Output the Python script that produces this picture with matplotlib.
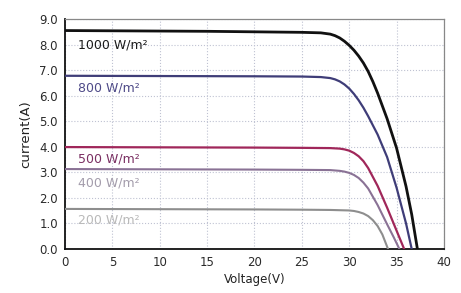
import matplotlib.pyplot as plt

# I-V curves (voltage in V, current in A)
v_1000 = [0, 5, 10, 15, 20, 25, 27, 28, 28.5, 29, 29.5, 30, 30.5, 31, 31.5, 32, 32.5, 33, 34, 35, 36, 36.6, 37.2]
i_1000 = [8.55, 8.54, 8.53, 8.52, 8.50, 8.48, 8.46, 8.41, 8.35, 8.26, 8.13, 7.97, 7.78, 7.55, 7.28, 6.95, 6.55, 6.10, 5.10, 3.95, 2.45, 1.35, 0.0]

v_800 = [0, 10, 20, 25, 27, 28, 28.5, 29, 29.5, 30, 30.5, 31, 31.5, 32, 33, 34, 35, 36, 36.6]
i_800 = [6.78, 6.77, 6.76, 6.75, 6.73, 6.69, 6.64, 6.56, 6.44, 6.28, 6.07, 5.82, 5.53, 5.20, 4.48, 3.60, 2.40, 1.00, 0.0]

v_500 = [0, 10, 20, 25, 28, 29, 29.5, 30, 30.5, 31, 31.5, 32, 33, 34, 35, 35.8]
i_500 = [3.99, 3.98, 3.97, 3.96, 3.95, 3.93, 3.90, 3.85, 3.76, 3.63, 3.44, 3.17, 2.47, 1.62, 0.72, 0.0]

v_400 = [0, 10, 20, 25, 28, 29, 29.5, 30, 30.5, 31, 31.5, 32, 33, 34, 34.7, 35.3]
i_400 = [3.13, 3.12, 3.11, 3.10, 3.09, 3.06, 3.03, 2.98, 2.90, 2.78, 2.60, 2.37, 1.72, 0.97, 0.46, 0.0]

v_200 = [0, 10, 20, 25, 28, 30, 30.5, 31, 31.5, 32, 32.5, 33, 33.5, 34.1]
i_200 = [1.57, 1.56, 1.55, 1.54, 1.53, 1.51, 1.49, 1.45, 1.39, 1.29, 1.13, 0.90, 0.57, 0.0]

labels = ["1000 W/m²", "800 W/m²", "500 W/m²", "400 W/m²", "200 W/m²"]
label_y = [8.0, 6.3, 3.52, 2.6, 1.12]

x_ticks = [0, 5, 10, 15, 20, 25, 30, 35, 40]
y_ticks = [0, 1, 2, 3, 4, 5, 6, 7, 8, 9]

curves = [(v_1000, i_1000), (v_800, i_800), (v_500, i_500), (v_400, i_400), (v_200, i_200)]
line_colors = ["#111111", "#3f3d78", "#a0275a", "#8a7295", "#8e8e8e"]
line_widths = [2.0, 1.6, 1.6, 1.5, 1.5]
text_colors = ["#1a1a1a", "#4e4a88", "#7a2f62", "#a39cab", "#b9b9b9"]

plt.rcParams["font.family"] = ["DejaVu Sans"]

fig = plt.figure(figsize=(4.61, 2.93), dpi=100)
ax = fig.add_axes([0.141, 0.150, 0.822, 0.785])

for (v, i), c, lw in zip(curves, line_colors, line_widths):
    ax.plot(v, i, color=c, lw=lw, solid_joinstyle="round", zorder=3)

for txt, y, c in zip(labels, label_y, text_colors):
    ax.text(1.4, y, txt, color=c, fontsize=9, va="center", ha="left", zorder=4)

ax.set_xlim(0, 40)
ax.set_ylim(0, 9)
ax.set_xticks(x_ticks)
ax.set_yticks(y_ticks)
ax.set_yticklabels([f"{t:.1f}" for t in y_ticks])
ax.tick_params(length=0, labelsize=8.5, colors="#2a2a2a", pad=5)

ax.grid(True, color="#bfc2d2", linestyle=":", linewidth=0.8)
ax.set_axisbelow(True)

for side in ["left", "bottom"]:
    ax.spines[side].set_color("#111111")
    ax.spines[side].set_linewidth(1.3)
for side in ["top", "right"]:
    ax.spines[side].set_color("#888888")
    ax.spines[side].set_linewidth(0.9)

ax.set_xlabel("Voltage(V)", fontsize=8.5, color="#222222", labelpad=3)
ax.set_ylabel("current(A)", fontsize=9.5, color="#222222", labelpad=5)

fig.savefig("out.png", dpi=100)
